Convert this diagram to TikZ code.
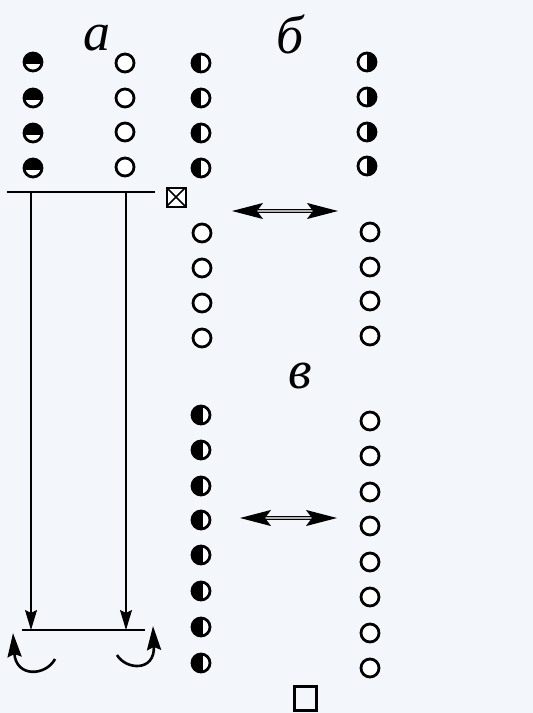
\documentclass[tikz,border=0pt]{standalone}
\usepackage{fontspec}
\setmainfont{Liberation Serif}
\usetikzlibrary{arrows.meta}
\definecolor{bg}{HTML}{F3F6FB}
\begin{document}
\begin{tikzpicture}[x=1pt,y=-1pt,
 atom/.style={circle,draw=black,line width=2.8pt,minimum size=18pt,inner sep=0pt,fill=white},
 topfill/.style={atom,path picture={\fill[black] ([yshift=-1.5pt]path picture bounding box.west) rectangle (path picture bounding box.north east);}},
 leftfill/.style={atom,path picture={\fill[black] (path picture bounding box.south west) rectangle (path picture bounding box.north);}},
 rightfill/.style={atom,path picture={\fill[black] (path picture bounding box.south) rectangle (path picture bounding box.north east);}},
 mostfill/.style={atom,path picture={\fill[black] ([xshift=1.8pt]path picture bounding box.south) rectangle (path picture bounding box.north west);}},
 lbl/.style={font=\fontsize{54}{54}\selectfont\itshape,inner sep=0pt,anchor=base},
 bar/.style={line width=2pt},
 vline/.style={line width=1.1pt,-{Stealth[length=20pt,width=12pt,inset=3pt]}},
 dbl/.style={line width=1.3pt,double=gray!60,double distance=1.3pt,
   {Stealth[length=31pt,width=16pt,inset=6pt]}-{Stealth[length=31pt,width=16pt,inset=6pt]}},
 curl/.style={line width=2.6pt,-{Stealth[length=24pt,width=14pt,inset=3pt]}},
 crossbox/.style={draw=black,line width=2pt,minimum size=19pt,inner sep=0pt,fill=white,
   path picture={\draw[line width=1.6pt] (path picture bounding box.south west) -- (path picture bounding box.north east) (path picture bounding box.north west) -- (path picture bounding box.south east);}},
 sqbox/.style={draw=black,line width=3pt,minimum width=22pt,minimum height=24pt,inner sep=0pt}
]
\fill[bg] (0,0) rectangle (533,713);
\useasboundingbox (0,0) rectangle (533,713);

% labels
\node[lbl] (la) at (97,50) {а};
\node[lbl] (lb) at (290,53) {б};
\node[lbl] (lv) at (300,388) {в};

% section a
\foreach \y [count=\i] in {62,98,133,168}{
  \node[topfill] (aL\i) at (33,\y) {};
}
\foreach \y [count=\i] in {63,98,132,167}{
  \node[atom] (aR\i) at (125,\y) {};
}
\coordinate (tbl) at (7,192);
\coordinate (tbr) at (155,192);
\draw[bar] (tbl) -- (tbr);
\coordinate (t1) at (31,192);
\coordinate (t2) at (126,192);
\coordinate (b1) at (31,630);
\coordinate (b2) at (126,630);
\draw[vline] (t1) -- (b1);
\draw[vline] (t2) -- (b2);
\coordinate (bbl) at (22,630);
\coordinate (bbr) at (145,630);
\draw[bar] (bbl) -- (bbr);
\coordinate (c1s) at (55,659);
\coordinate (c1e) at (13,633);
\draw[curl] (c1s) .. controls (46,676) and (16,678) .. (c1e);
\coordinate (c2s) at (117,655);
\coordinate (c2e) at (153,626);
\draw[curl] (c2s) .. controls (126,670) and (155,672) .. (c2e);
\node[crossbox] (xb) at (176,197) {};

% section b
\foreach \y [count=\i] in {63,98,133,168}{
  \node[leftfill] (bL\i) at (201,\y) {};
}
\foreach \y [count=\i] in {62,97,132,166}{
  \node[rightfill] (bR\i) at (367,\y) {};
}
\foreach \y [count=\i] in {233,268,303,338}{
  \node[atom] (bLo\i) at (202,\y) {};
}
\foreach \y [count=\i] in {232,267,301,336}{
  \node[atom] (bRo\i) at (370,\y) {};
}
\coordinate (d1l) at (232,211);
\coordinate (d1r) at (338,211);
\draw[dbl] (d1l) -- (d1r);

% section v
\foreach \y [count=\i] in {415,450,486,520,555,591,627,663}{
  \node[mostfill] (vL\i) at (201,\y) {};
}
\foreach \y [count=\i] in {421,456,492,526,562,597,633,668}{
  \node[atom] (vR\i) at (370,\y) {};
}
\coordinate (d2l) at (240,518);
\coordinate (d2r) at (337,518);
\draw[dbl] (d2l) -- (d2r);
\node[sqbox] (sq) at (305,698) {};
\end{tikzpicture}
\end{document}
